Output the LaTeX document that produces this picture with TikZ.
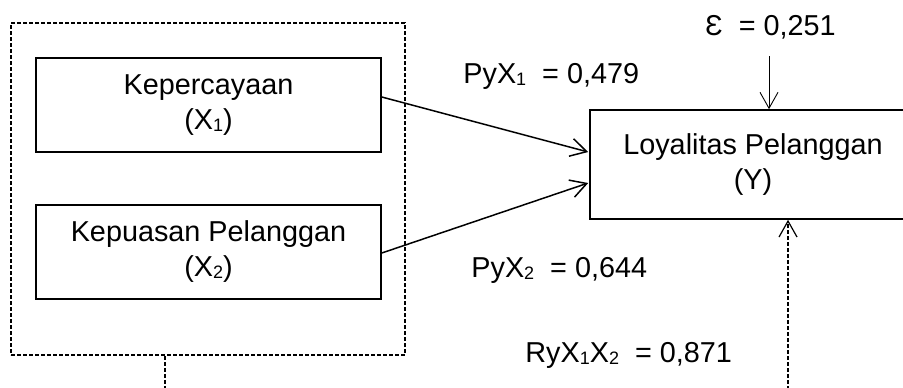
\documentclass[tikz,border=0pt]{standalone}
\usepackage{fontspec}
\setmainfont{Liberation Sans}
\usetikzlibrary{arrows.meta,calc}
\newcommand{\sbx}[1]{\raisebox{-1pt}{\fontsize{9}{9}\selectfont #1}}
\begin{document}
\begin{tikzpicture}[x=0.5pt,y=-0.5pt,
  every node/.style={font=\fontsize{14.4}{17.5}\selectfont},
  varbox/.style={draw,line width=0.8pt,align=center,inner sep=0pt},
  grpbox/.style={draw,line width=0.75pt,dash pattern=on 2pt off 1pt,inner sep=0pt},
  dashline/.style={line width=0.75pt,dash pattern=on 2pt off 1pt},
  arr/.style={line width=0.75pt,-{Straight Barb[length=8pt,width=9pt]}},
  thinarr/.style={line width=0.45pt,-{Straight Barb[length=8pt,width=9pt]}},
  lbl/.style={anchor=base west,inner sep=0pt}]
\useasboundingbox (0,0) rectangle (903,387);
\clip (0,0) rectangle (903,387);
\node[grpbox,minimum width=197pt,minimum height=166pt] (G) at (208,189) {};
\node[varbox,minimum width=172.5pt,minimum height=47pt] (X1) at (208.5,105) {Kepercayaan\\(X\sbx{1})};
\node[varbox,minimum width=172.5pt,minimum height=47pt] (X2) at (208.5,252) {Kepuasan Pelanggan\\(X\sbx{2})};
\node[varbox,minimum width=163pt,minimum height=54.5pt] (Y) at (753,164.5) {Loyalitas Pelanggan\\(Y)};
\node[lbl] (E) at (705,35) {Ɛ\ \ = 0,251};
\node[lbl] (P1) at (463,83) {PyX\sbx{1}\ \ = 0,479};
\node[lbl] (P2) at (471,277) {PyX\sbx{2}\ \ = 0,644};
\node[lbl] (R) at (525,362) {RyX\sbx{1}X\sbx{2}\ \ = 0,871};
\coordinate (gbot) at (165,390);
\coordinate (ybot) at (788,390);
\coordinate (ymid) at (788,222);
\coordinate (etop) at (769,56);
\draw[arr] ($(X1.east)+(0,-8)$) -- ($(Y.west)+(-1,-12.5)$);
\draw[arr] ($(X2.east)+(0,1)$) -- ($(Y.west)+(-1,18.5)$);
\draw[thinarr] (etop) -- (etop |- Y.north);
\draw[dashline] (gbot |- G.south) -- (gbot);
\draw[dashline] (ybot) -- (ymid);
\draw[line width=0.6pt,-{Straight Barb[length=8pt,width=9pt]}] (ymid) -- (ymid |- Y.south);
\end{tikzpicture}
\end{document}
